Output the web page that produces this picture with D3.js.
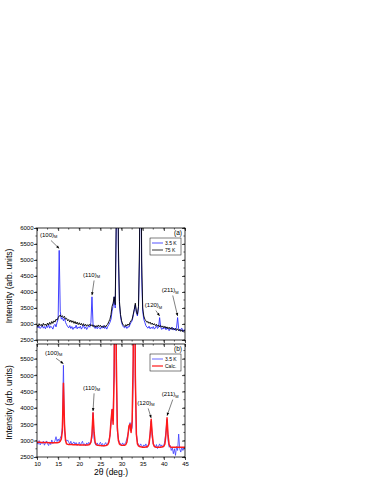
<!DOCTYPE html>
<html>
<head>
<meta charset="utf-8">
<script src="https://cdn.jsdelivr.net/npm/d3@7"></script>
<style>
  body { margin: 0; background: #fff; }
  text { font-family: "Liberation Sans", Arial, sans-serif; fill: #000; }
</style>
</head>
<body>
<div id="chart"></div>
<script>
// sampling grid of the scans (deg), 0.25 step
var twoTheta = d3.range(10, 45.001, 0.25);

// panel (a): 3.5 K measured
var blueA = [
  2950, 2880, 2930, 2860, 2900, 2960, 2870, 2920, 2850, 2940,
  2890, 2980, 2870, 2930, 2900, 2840, 2950, 2990, 2910, 3050,
  3150, 5300, 3400, 3150, 3200, 3100, 3180, 3050, 2980, 2920,
  2880, 2950, 2860, 2920, 2830, 2900, 2870, 2960, 2850, 2910,
  2870, 2930, 2840, 2900, 2960, 2860, 2910, 2830, 2890, 2950,
  2900, 3050, 3850, 3000, 2900, 2860, 2930, 2850, 2910, 2880,
  2840, 2920, 2870, 2950, 2860, 2900, 2840, 2930, 2980, 3050,
  3150, 3400, 3550, 3850, 3500, 6000, 12000, 5000, 3600, 3250,
  3050, 2950, 2900, 2880, 2940, 2860, 2920, 2900, 2980, 3050,
  3100, 3250, 3450, 3600, 3350, 3250, 3500, 5000, 12000, 4500,
  3400, 3150, 3050, 2950, 2900, 2870, 2930, 2850, 2900, 2860,
  2920, 2840, 2880, 2950, 2860, 2900, 3200, 2900, 2830, 2880,
  2850, 2900, 2820, 2880, 2840, 2790, 2870, 2830, 2900, 2810,
  2860, 2800, 2880, 3200, 2850, 2780, 2840, 2870, 2760, 2820,
  2800
];
// panel (a): 75 K measured
var blackA = [
  2980, 2920, 3010, 2950, 2990, 2930, 3020, 2960, 3000, 2940,
  3030, 2970, 3050, 2990, 3080, 3020, 3100, 3060, 3150, 3120,
  3200, 3250, 3280, 3220, 3260, 3200, 3240, 3150, 3180, 3100,
  3140, 3060, 3120, 3050, 3100, 3020, 3080, 3000, 3060, 2980,
  3040, 2970, 3020, 2950, 3010, 2940, 2990, 2930, 2980, 2950,
  2990, 2940, 2980, 2920, 2960, 2900, 2950, 2910, 2970, 2920,
  2960, 2900, 2940, 2890, 2950, 2910, 2970, 3000, 3080, 3150,
  3300, 3550, 3650, 3850, 3600, 6500, 12000, 5500, 3700, 3300,
  3100, 3000, 2960, 2920, 2980, 2940, 3000, 2960, 3050, 3100,
  3150, 3300, 3450, 3650, 3400, 3300, 3550, 5500, 12000, 5000,
  3500, 3250, 3150, 3100, 3050, 3080, 3020, 3060, 2990, 3030,
  2970, 3010, 2950, 2990, 2930, 2970, 2910, 2950, 2900, 2940,
  2880, 2930, 2870, 2910, 2850, 2900, 2840, 2890, 2830, 2870,
  2820, 2860, 2800, 2850, 2790, 2830, 2770, 2820, 2760, 2800,
  2780
];
// panel (b): 3.5 K measured
var blueB = [
  2950, 2890, 3000, 2870, 2940, 2910, 2980, 2860, 2930, 2990,
  2900, 2850, 2960, 2880, 3020, 2910, 2950, 3000, 3120, 2970,
  3050, 2980, 3080, 3150, 3400, 5300, 3300, 3050, 2980, 3020,
  2950, 2900, 2980, 2870, 2930, 2960, 2880, 2940, 2850, 2910,
  2950, 2860, 2920, 2980, 2870, 2900, 2840, 2930, 2880, 2950,
  2900, 2960, 3100, 3850, 3050, 2900, 2860, 2930, 2840, 2900,
  2950, 2870, 2910, 2830, 2890, 2940, 2860, 2900, 3000, 3150,
  3500, 3950, 3600, 5500, 12000, 5000, 3300, 3050, 2950, 2900,
  2870, 2930, 2860, 2900, 2950, 3050, 3200, 3350, 3550, 3300,
  3400, 5000, 12000, 4800, 3200, 2950, 2880, 2820, 2900, 2850,
  2800, 2870, 2830, 2900, 2780, 2850, 2920, 3200, 3600, 3100,
  2900, 2850, 2800, 2880, 2760, 2830, 2900, 2820, 2870, 2800,
  2850, 3000, 3300, 3650, 3000, 2800, 2850, 2700, 2780, 2600,
  2750, 2550, 2820, 2700, 3200, 2750, 2650, 2800, 2700, 2780,
  2750
];
// panel (b): calculated pattern
var calcB = [
  2950, 2950, 2950, 2948, 2946, 2945, 2944, 2943, 2942, 2940,
  2940, 2938, 2936, 2935, 2934, 2933, 2932, 2932, 2932, 2935,
  2940, 2950, 2980, 3050, 3300, 4750, 3500, 3000, 2900, 2890,
  2885, 2880, 2880, 2878, 2876, 2875, 2874, 2873, 2872, 2872,
  2870, 2870, 2868, 2866, 2865, 2864, 2864, 2865, 2868, 2875,
  2890, 2950, 3200, 3850, 3250, 2950, 2880, 2860, 2855, 2850,
  2848, 2846, 2845, 2845, 2846, 2850, 2860, 2880, 2950, 3150,
  3600, 3950, 3500, 5000, 12000, 5500, 3400, 3000, 2900, 2870,
  2860, 2855, 2855, 2860, 2880, 2950, 3150, 3450, 3500, 3250,
  3600, 5500, 12000, 5000, 3200, 2900, 2840, 2820, 2810, 2805,
  2800, 2800, 2800, 2805, 2810, 2830, 2900, 3200, 3650, 3200,
  2900, 2820, 2805, 2800, 2800, 2800, 2800, 2800, 2805, 2810,
  2830, 2900, 3200, 3700, 3150, 2880, 2810, 2800, 2800, 2800,
  2800, 2800, 2800, 2800, 2800, 2800, 2800, 2800, 2800, 2800,
  2800
];

var xTicks = [10, 15, 20, 25, 30, 35, 40, 45];
var yTicksA = [2500, 3000, 3500, 4000, 4500, 5000, 5500, 6000];
var yTicksB = [2500, 3000, 3500, 4000, 4500, 5000, 5500];

// peak labels: [text, label x (deg), label y, peak x, peak y]
var labelsA = [
  ["(100)", 10.7, 5720, 15.25, 5360],
  ["(110)", 20.9, 4470, 23.0, 3900],
  ["(120)", 35.5, 3530, 39.0, 3250],
  ["(211)", 39.5, 4000, 43.25, 3250]
];
var labelsB = [
  ["(100)", 11.9, 5620, 16.25, 5350],
  ["(110)", 20.9, 4550, 23.25, 3900],
  ["(120)", 33.7, 4090, 37.0, 3690],
  ["(211)", 39.5, 4360, 40.75, 3760]
];

var width = 374, height = 484;
var left = 37, right = 185;

var svg = d3.select("#chart").append("svg")
    .attr("width", width)
    .attr("height", height);

var x = d3.scaleLinear().domain([10, 45]).range([left, right]);

function drawPanel(id, top, bottom, yMax, yTicks, series, legend, tag, labels, showX) {
    var y = d3.scaleLinear().domain([2500, yMax]).range([bottom, top]);

    svg.append("clipPath").attr("id", "clip" + id)
        .append("rect")
        .attr("x", left).attr("y", top)
        .attr("width", right - left).attr("height", bottom - top);

    var g = svg.append("g").attr("clip-path", "url(#clip" + id + ")");
    var line = d3.line()
        .x(function(d, i) { return x(twoTheta[i]); })
        .y(function(d) { return y(d); });

    series.forEach(function(s) {
        g.append("path")
            .datum(s.values)
            .attr("fill", "none")
            .attr("stroke", s.color)
            .attr("stroke-width", s.w)
            .attr("stroke-linejoin", "round")
            .attr("d", line);
    });

    // axes
    var minorX = d3.range(10, 45.01, 2.5);
    var minorY = d3.range(2500, yMax + 1, 250);
    var ax = svg.append("g").attr("transform", "translate(0," + bottom + ")")
        .call(d3.axisBottom(x).tickValues(xTicks).tickSize(3).tickFormat(showX ? d3.format("d") : ""));
    var axTop = svg.append("g").attr("transform", "translate(0," + top + ")")
        .call(d3.axisBottom(x).tickValues(xTicks).tickSize(3).tickFormat(""));
    var ay = svg.append("g").attr("transform", "translate(" + left + ",0)")
        .call(d3.axisLeft(y).tickValues(yTicks).tickSize(3).tickFormat(d3.format("d")));
    var ayR = svg.append("g").attr("transform", "translate(" + right + ",0)")
        .call(d3.axisLeft(y).tickValues(yTicks).tickSize(3).tickFormat(""));
    [ax, axTop, ay, ayR].forEach(function(a) {
        a.select(".domain").remove();
        a.selectAll("line").attr("stroke", "#000").attr("stroke-width", 0.7);
        a.selectAll("text").attr("font-size", 6).style("font-family", "Liberation Sans, Arial, sans-serif");
    });
    ay.selectAll("text").attr("x", -3.5);
    ax.selectAll("text").attr("y", 4.5);

    // minor ticks
    svg.append("g").selectAll("line").data(minorX).enter().append("line")
        .attr("x1", function(d) { return x(d); }).attr("x2", function(d) { return x(d); })
        .attr("y1", bottom).attr("y2", bottom + 1.6)
        .attr("stroke", "#000").attr("stroke-width", 0.6);
    svg.append("g").selectAll("line").data(minorX).enter().append("line")
        .attr("x1", function(d) { return x(d); }).attr("x2", function(d) { return x(d); })
        .attr("y1", top).attr("y2", top + 1.6)
        .attr("stroke", "#000").attr("stroke-width", 0.6);
    svg.append("g").selectAll("line").data(minorY).enter().append("line")
        .attr("x1", left - 1.6).attr("x2", left)
        .attr("y1", function(d) { return y(d); }).attr("y2", function(d) { return y(d); })
        .attr("stroke", "#000").attr("stroke-width", 0.6);
    svg.append("g").selectAll("line").data(minorY).enter().append("line")
        .attr("x1", right - 1.6).attr("x2", right)
        .attr("y1", function(d) { return y(d); }).attr("y2", function(d) { return y(d); })
        .attr("stroke", "#000").attr("stroke-width", 0.6);

    // frame
    svg.append("rect")
        .attr("x", left).attr("y", top)
        .attr("width", right - left).attr("height", bottom - top)
        .attr("fill", "none").attr("stroke", "#000").attr("stroke-width", 0.8);

    // y title
    svg.append("text")
        .attr("transform", "translate(12," + ((top + bottom) / 2 + 2) + ") rotate(-90)")
        .attr("text-anchor", "middle")
        .attr("font-size", 8.5)
        .text("Intensity (arb. units)");

    // panel tag
    svg.append("text")
        .attr("x", right - 3).attr("y", top + 7)
        .attr("text-anchor", "end")
        .attr("font-size", 6.5)
        .text(tag);

    // legend
    var lg = svg.append("g");
    lg.append("rect")
        .attr("x", 150).attr("y", top + 10)
        .attr("width", 31).attr("height", 17)
        .attr("fill", "#fff").attr("stroke", "#000").attr("stroke-width", 0.5);
    legend.forEach(function(l, i) {
        var ly = top + 15 + i * 7;
        lg.append("line")
            .attr("x1", 152).attr("x2", 163)
            .attr("y1", ly).attr("y2", ly)
            .attr("stroke", l.color).attr("stroke-width", l.w);
        lg.append("text")
            .attr("x", 165).attr("y", ly + 2)
            .attr("font-size", 5)
            .text(l.name);
    });

    // peak labels with arrows
    labels.forEach(function(l) {
        var t = svg.append("text")
            .attr("x", x(l[1])).attr("y", y(l[2]))
            .attr("font-size", 6);
        t.append("tspan").text(l[0]);
        t.append("tspan").attr("font-size", 4).attr("dy", 1.5).text("M");
        var x0 = x(l[1]) + 11, y0 = y(l[2]) + 3.5;
        var x1 = x(l[3]), y1 = y(l[4]);
        svg.append("line")
            .attr("x1", x0).attr("y1", y0).attr("x2", x1).attr("y2", y1)
            .attr("stroke", "#000").attr("stroke-width", 0.5);
        var ang = Math.atan2(y1 - y0, x1 - x0);
        var ah = 3, aw = 1.3;
        var p = [
            [x1, y1],
            [x1 - ah * Math.cos(ang) + aw * Math.sin(ang), y1 - ah * Math.sin(ang) - aw * Math.cos(ang)],
            [x1 - ah * Math.cos(ang) - aw * Math.sin(ang), y1 - ah * Math.sin(ang) + aw * Math.cos(ang)]
        ];
        svg.append("path")
            .attr("d", "M" + p.join("L") + "Z")
            .attr("fill", "#000");
    });
}

drawPanel("a", 228, 340, 6000, yTicksA,
    [{values: blueA, color: "#2b2bff", w: 0.9}, {values: blackA, color: "#000", w: 0.9}],
    [{name: "3.5 K", color: "#7070ff", w: 1.2}, {name: "75 K", color: "#000", w: 0.8}],
    "(a)", labelsA, false);

drawPanel("b", 344, 457, 5950, yTicksB,
    [{values: blueB, color: "#3a3aff", w: 0.8}, {values: calcB, color: "#ff1a1a", w: 1.5}],
    [{name: "3.5 K", color: "#8080ff", w: 1.2}, {name: "Calc.", color: "#ff1a1a", w: 1.2}],
    "(b)", labelsB, true);

// x title
svg.append("text")
    .attr("x", (left + right) / 2).attr("y", 475)
    .attr("text-anchor", "middle")
    .attr("font-size", 8.5)
    .text("2\u03b8 (deg.)");
</script>
</body>
</html>
